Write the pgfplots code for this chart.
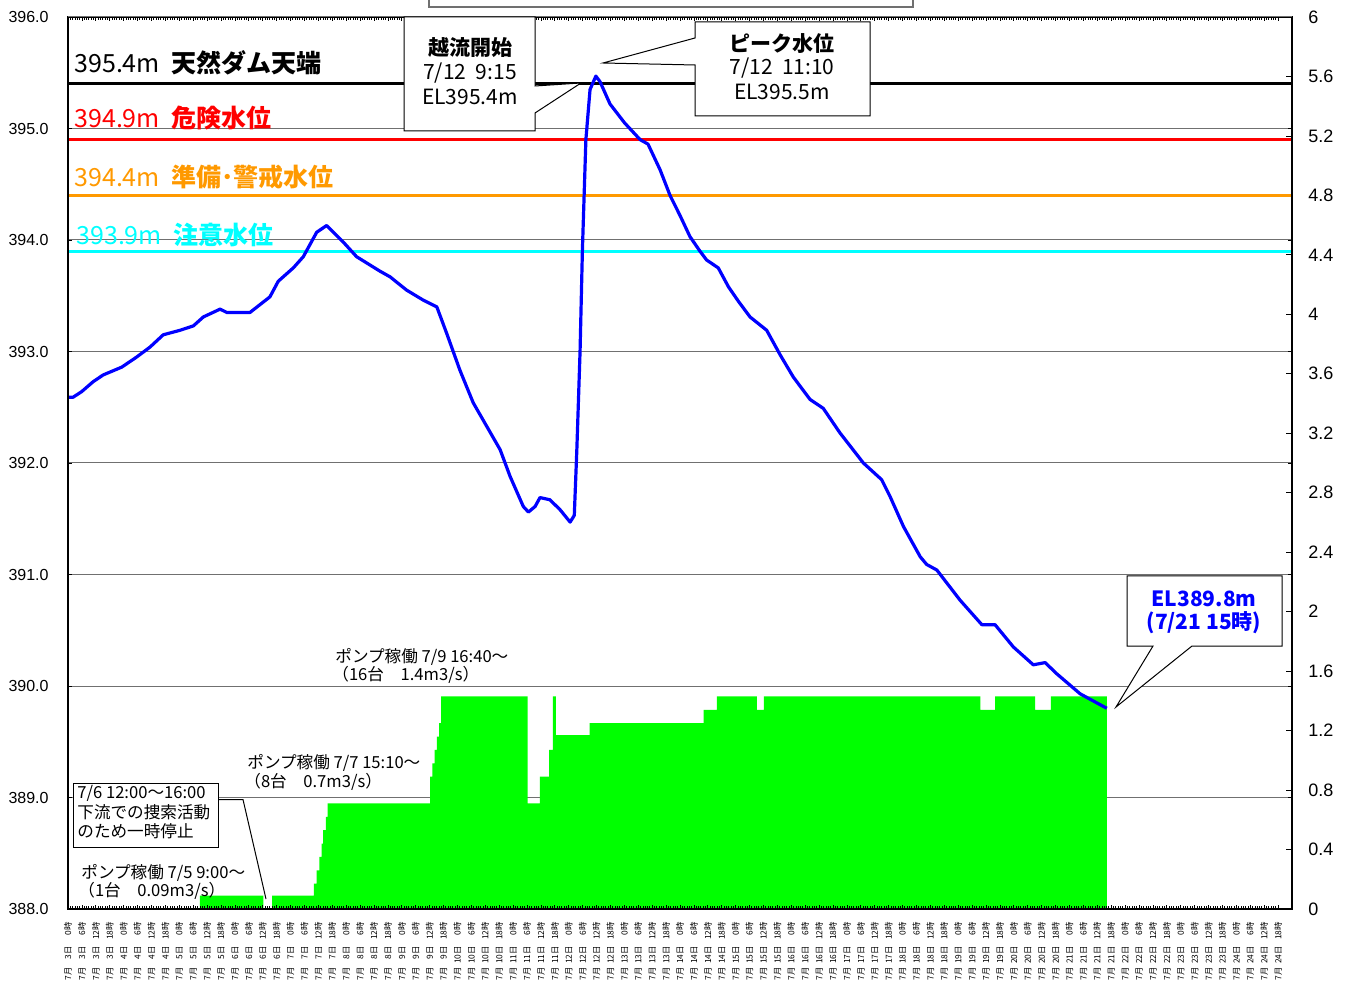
\documentclass[border=0pt]{standalone}
\usepackage{pgfplots}
\pgfplotsset{compat=1.18}
\usepackage{fontspec}
\setmainfont{Noto Sans CJK JP}
\newfontfamily\arial{Liberation Sans}
\definecolor{grn}{HTML}{00FF00}
\definecolor{org}{HTML}{FF9900}
\definecolor{cyn}{HTML}{00FFFF}
\definecolor{blu}{HTML}{0000FF}
\definecolor{grd}{HTML}{707070}
\begin{document}
\begin{tikzpicture}
\pgfplotsset{base/.style={width=612pt,height=446pt,scale only axis,at={(0,0)},anchor=south west,xmin=0,xmax=528}}
% grid only
\begin{axis}[base, ymin=388, ymax=396, ytick={389,390,391,392,393,394,395}, yticklabels={}, xtick=\empty,
  ymajorgrids, major tick length=0pt, axis line style={draw=none}, grid style={grd, line width=0.5pt}]
\addplot[draw=none] coordinates {(0,388)};
\end{axis}
% pump discharge (right axis)
\begin{axis}[base, ymin=0, ymax=6, axis y line*=right, axis x line=none,
  ytick={0,0.4,0.8,1.2,1.6,2,2.4,2.8,3.2,3.6,4,4.4,4.8,5.2,5.6,6},
  tick align=inside, major tick length=3pt, tick style={black, line width=0.4pt},
  axis line style={black, line width=0.6pt},
  yticklabel style={font=\arial\fontsize{9}{10}\selectfont, inner sep=0pt, anchor=west},
  yticklabel shift=8pt, /pgf/number format/assume math mode=true]
\addplot[const plot, fill=grn, draw=none] coordinates {
(56.9,0.09) (84.3,0) (88.0,0.09) (106.1,0.17) (107.3,0.26) (108.4,0.35) (109.4,0.44) (110.1,0.53) (111.2,0.62) (112.0,0.71)
(156.2,0.89) (157.2,0.98) (158.1,1.07) (159.1,1.16) (160.1,1.25) (160.9,1.43) (198.3,0.71) (203.6,0.89) (207.5,1.07)
(209.2,1.43) (210.5,1.17) (225.0,1.25) (274.2,1.34) (279.9,1.43) (297.2,1.34) (300.2,1.43) (393.6,1.34) (399.9,1.43)
(417.2,1.34) (424.0,1.43) (448.1,0)} \closedcycle;
\end{axis}
% water level (left axis)
\begin{axis}[base, ymin=388, ymax=396, ytick={388,389,390,391,392,393,394,395,396}, axis on top,
  tick align=inside, xtick={0,6,...,522}, minor x tick num=5,
  major tick length=2pt, minor tick length=1.4pt, tick style={black, line width=0.4pt},
  axis line style={black, line width=0.6pt},
  yticklabel style={font=\arial\fontsize{8}{10}\selectfont, inner sep=0pt},
  yticklabel shift=9.5pt,
  xticklabel style={rotate=90, anchor=east, inner sep=0pt, font=\fontsize{4.2}{4.5}\selectfont},
  xticklabel shift=6.3pt,
  xticklabel={\pgfmathtruncatemacro\xdd{floor((\tick+0.5)/24)+3}\pgfmathtruncatemacro\xhh{round(\tick-24*(\xdd-3))}\makebox[10pt][r]{7月}\makebox[13.5pt][r]{\xdd 日\hspace{3pt}}\makebox[9pt][r]{\xhh 時}},
  /pgf/number format/fixed, /pgf/number format/fixed zerofill, /pgf/number format/precision=1,
  /pgf/number format/assume math mode=true]
\addplot[black, line width=1.6pt] coordinates {(0,395.4) (528,395.4)};
\addplot[red, line width=1.5pt] coordinates {(0,394.9) (528,394.9)};
\addplot[org, line width=1.5pt] coordinates {(0,394.4) (528,394.4)};
\addplot[cyn, line width=1.5pt] coordinates {(0,393.9) (528,393.9)};
\addplot[blu, line width=1.6pt, line join=round] coordinates {
(0.0,392.59) (2.2,392.59) (5.9,392.64) (10.9,392.73) (15.2,392.79) (23.2,392.86) (29.6,392.95) (35.4,393.04) (41.1,393.15)
(48.3,393.19) (54.1,393.23) (58.4,393.31) (65.6,393.38) (68.5,393.35) (78.5,393.35) (87.1,393.49) (90.7,393.63) (97.2,393.75)
(101.5,393.85) (107.3,394.07) (111.6,394.13) (118.8,393.98) (124.5,393.85) (134.6,393.72) (138.9,393.67) (146.1,393.55)
(153.3,393.46) (159.1,393.40) (163.4,393.16) (169.1,392.83) (174.8,392.54) (180.6,392.33) (186.4,392.12) (190.7,391.88)
(196.4,391.61) (198.6,391.56) (201.5,391.61) (203.6,391.69) (207.9,391.67) (212.3,391.58) (216.6,391.47) (218.4,391.53)
(219.5,392.12) (220.9,393.01) (221.9,393.91) (223.4,394.90) (225.2,395.35) (227.7,395.47) (229.5,395.42) (233.8,395.22)
(240.1,395.05) (246.8,394.90) (250.2,394.86) (255.4,394.63) (259.7,394.40) (264.0,394.22) (268.3,394.03) (272.6,393.90)
(275.5,393.82) (280.5,393.75) (284.9,393.58) (289.2,393.45) (294.2,393.31) (301.4,393.19) (307.2,392.97) (312.9,392.77)
(320.1,392.57) (325.8,392.49) (333.0,392.27) (343.1,392.00) (351.0,391.85) (354.6,391.70) (360.4,391.43) (367.6,391.16)
(370.4,391.09) (374.8,391.04) (384.8,390.77) (394.2,390.55) (399.9,390.55) (407.8,390.35) (416.4,390.19) (421.5,390.21)
(426.5,390.11) (436.6,389.93) (448.1,389.80)};
\end{axis}
% annotations in pixel coordinates of the reference
\begin{scope}[x=0.5pt, y=-0.5pt, shift={(-34pt,454.5pt)}]
\draw[grd, line width=0.5pt] (68,17) -- (1292,17);
\draw[grd, line width=0.6pt] (429,-30) rectangle (913,7);
% reference line labels
\node[anchor=west, inner sep=0pt, font=\fontsize{12.5}{14}\selectfont] at (74,63) {395.4m\ \ \textbf{天然ダム天端}};
\node[anchor=west, inner sep=0pt, red, font=\fontsize{12.5}{14}\selectfont] at (74,118) {394.9m\ \ \textbf{危険水位}};
\node[anchor=west, inner sep=0pt, org, font=\fontsize{12.5}{14}\selectfont] at (74,177) {394.4m\ \ \textbf{準備･警戒水位}};
\node[anchor=west, inner sep=0pt, cyn, font=\fontsize{12.5}{14}\selectfont] at (76,235) {393.9m\ \ \textbf{注意水位}};
% callout 1
\draw[fill=white, line width=0.5pt] (404,17) -- (535,17) -- (535,86) -- (581,83) -- (535,113) -- (535,131) -- (404,131) -- cycle;
\node[font=\fontsize{10.5}{12}\selectfont\bfseries] at (470,48) {越流開始};
\node[font=\fontsize{10.5}{12}\selectfont] at (470,73) {7/12\ \ 9:15};
\node[font=\fontsize{10.5}{12}\selectfont] at (470,97) {EL395.4m};
% callout 2
\draw[fill=white, line width=0.5pt] (695,22) -- (870,22) -- (870,116) -- (695,116) -- (695,65) -- (603,63) -- (695,38) -- cycle;
\node[font=\fontsize{10.5}{12}\selectfont\bfseries] at (782,44) {ピーク水位};
\node[font=\fontsize{10.5}{12}\selectfont] at (782,68) {7/12\ \ 11:10};
\node[font=\fontsize{10.5}{12}\selectfont] at (782,92) {EL395.5m};
% callout 3
\draw[fill=white, line width=0.5pt] (1127,576) -- (1282,576) -- (1282,646) -- (1192,646) -- (1116,707) -- (1153,646) -- (1127,646) -- cycle;
\node[blu, font=\fontsize{10.5}{12}\selectfont\bfseries] at (1204,599) {EL389.8m};
\node[blu, font=\fontsize{10.5}{12}\selectfont\bfseries] at (1204,623) {(7/21 15時)};
% callout 4
\draw[fill=white, line width=0.5pt] (73,783) rectangle (218,847);
\draw[line width=0.5pt] (218,799.5) -- (243,799.5) -- (266,899);
\node[anchor=west, inner sep=0pt, font=\fontsize{8.3}{10}\selectfont] at (77,793) {7/6 12:00～16:00};
\node[anchor=west, inner sep=0pt, font=\fontsize{8.3}{10}\selectfont] at (77,812) {下流での捜索活動};
\node[anchor=west, inner sep=0pt, font=\fontsize{8.3}{10}\selectfont] at (77,831) {のため一時停止};
% pump notes
\node[anchor=west, inner sep=0pt, font=\fontsize{8.3}{10}\selectfont] at (81,873) {ポンプ稼働 7/5 9:00～};
\node[anchor=west, inner sep=0pt, font=\fontsize{8.3}{10}\selectfont] at (78,891) {（1台　0.09m3/s）};
\node[anchor=west, inner sep=0pt, font=\fontsize{8.3}{10}\selectfont] at (247,763) {ポンプ稼働 7/7 15:10～};
\node[anchor=west, inner sep=0pt, font=\fontsize{8.3}{10}\selectfont] at (244,782) {（8台　0.7m3/s）};
\node[anchor=west, inner sep=0pt, font=\fontsize{8.3}{10}\selectfont] at (335,657) {ポンプ稼働 7/9 16:40～};
\node[anchor=west, inner sep=0pt, font=\fontsize{8.3}{10}\selectfont] at (332,675) {（16台　1.4m3/s）};
\end{scope}
\pgfresetboundingbox
\path[use as bounding box] (-34pt,-41pt) rectangle (642.5pt,454.5pt);
\end{tikzpicture}
\end{document}
